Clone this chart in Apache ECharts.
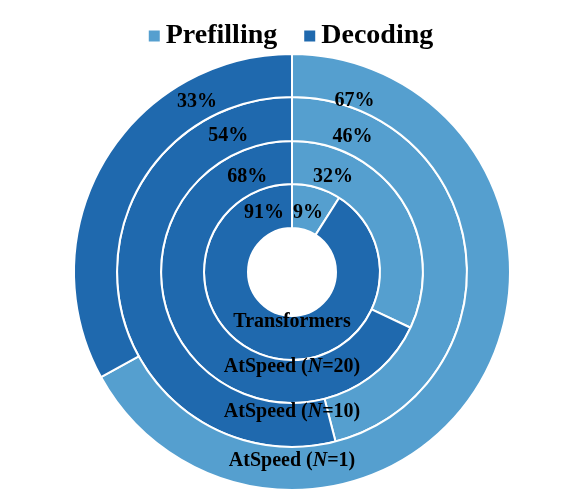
<!DOCTYPE html>
<html>
<head>
<meta charset="utf-8">
<script src="https://cdn.jsdelivr.net/npm/echarts@6/dist/echarts.min.js"></script>
<style>
  html, body { margin: 0; padding: 0; background: #fff; }
  #main { width: 580px; height: 498px; }
</style>
</head>
<body>
<div id="main"></div>
<script>
    // data
    const phases = ['Prefilling', 'Decoding'];
    const models = ['Transformers', 'AtSpeed (N=20)', 'AtSpeed (N=10)', 'AtSpeed (N=1)'];
    const prefilling = [9, 32, 46, 67];
    const decoding = [91, 68, 54, 33];

    const colors = ['#559fcf', '#1f69ae'];
    const cx = 292, cy = 272;
    const radii = [[44, 88], [88, 131], [131, 175], [175, 218]];
    // where the % labels sit: [radius, degrees from 12 o'clock] for prefilling / decoding
    const labelSpots = [
        [[62, 15], [66, -25]],
        [[105, 23], [106, -25]],
        [[149, 24], [151, -25]],
        [[183, 20], [196, -29]]
    ];

    const font = '"Liberation Serif", "Times New Roman", serif';

    const myChart = echarts.init(document.getElementById('main'));

    const series = models.map(function (m, i) {
        return {
            name: m,
            type: 'pie',
            center: [cx, cy],
            radius: radii[i],
            startAngle: 90,
            clockwise: true,
            silent: true,
            itemStyle: {borderColor: '#fff', borderWidth: 2},
            label: {
                show: true,
                position: 'inside',
                formatter: '{c}%',
                color: '#000',
                fontFamily: font,
                fontWeight: 'bold',
                fontSize: 20,
                align: 'center',
                verticalAlign: 'middle'
            },
            labelLine: {show: false},
            labelLayout: function (params) {
                const s = labelSpots[i][params.dataIndex];
                const a = s[1] * Math.PI / 180;
                return {x: cx + s[0] * Math.sin(a), y: cy - s[0] * Math.cos(a) + 1};
            },
            data: [
                {name: phases[0], value: prefilling[i]},
                {name: phases[1], value: decoding[i]}
            ]
        };
    });

    // ring names along the bottom of each ring
    const nameOffsets = [50, 95, 140, 189];
    const graphics = models.map(function (m, i) {
        const parts = m.match(/^(.*\()N(=.*)$/);
        const text = parts ? '{a|' + parts[1] + '}{b|N}{a|' + parts[2] + '}' : '{a|' + m + '}';
        return {
            type: 'text',
            x: cx,
            y: cy + nameOffsets[i],
            silent: true,
            z: 100,
            style: {
                text: text,
                align: 'center',
                verticalAlign: 'middle',
                rich: {
                    a: {fontFamily: font, fontWeight: 'bold', fontSize: 20, fill: '#000'},
                    b: {fontFamily: font, fontWeight: 'bold', fontStyle: 'italic', fontSize: 20, fill: '#000'}
                }
            }
        };
    });

    const option = {
        color: colors,
        animation: false,
        legend: {
            data: phases,
            top: 17,
            left: 'center',
            icon: 'rect',
            itemWidth: 13,
            itemHeight: 13,
            itemGap: 25,
            textStyle: {
                fontFamily: font,
                fontWeight: 'bold',
                fontSize: 28,
                color: '#000'
            }
        },
        series: series,
        graphic: graphics
    };
    myChart.setOption(option);
</script>
</body>
</html>
